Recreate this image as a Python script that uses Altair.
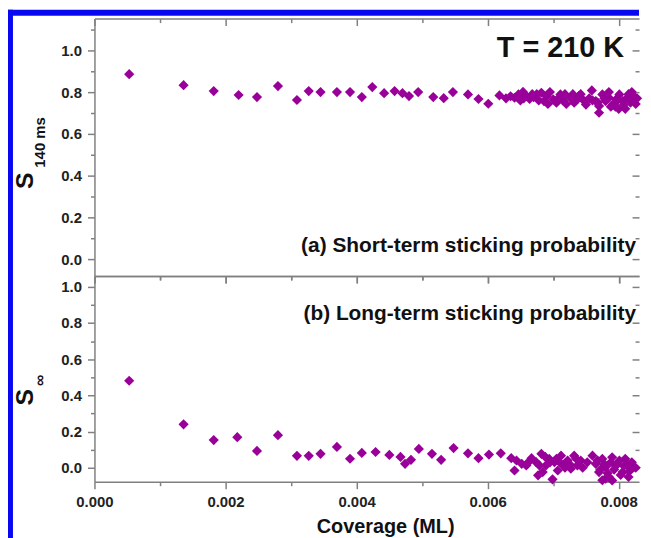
import altair as alt
import pandas as pd

PURPLE = "#990099"
BLUE = "#0808F0"
FONT = "Liberation Sans"
AXIS_GRAY = "#808080"

# ---------------- data ----------------
top_x = [0.00053, 0.00136, 0.00182, 0.00220, 0.00248, 0.00280, 0.00309, 0.00327,
         0.00345, 0.00370, 0.00390, 0.00408, 0.00424, 0.00442, 0.00458, 0.00470,
         0.00480, 0.00494, 0.00517, 0.00533, 0.00547, 0.00570, 0.00586, 0.00601,
         0.00618, 0.00641, 0.00647, 0.00654, 0.00659, 0.00664, 0.00670, 0.00682,
         0.00686, 0.00692, 0.00700, 0.00705, 0.00711, 0.00715, 0.00720, 0.00726,
         0.00732, 0.00739, 0.00745, 0.00759, 0.00765, 0.00770, 0.00770, 0.00775,
         0.00780, 0.00785, 0.00791, 0.00796, 0.00801, 0.00800, 0.00806, 0.00813,
         0.00818, 0.00823, 0.00826, 0.00650, 0.00675, 0.00695, 0.00730, 0.00750,
         0.00760, 0.00785, 0.00795, 0.00810, 0.00820,
         0.00655, 0.00668, 0.00678, 0.00690, 0.00708, 0.00718, 0.00735, 0.00742,
         0.00755, 0.00768, 0.00778, 0.00788, 0.00798, 0.00808, 0.00815, 0.00822,
         0.00828, 0.00635, 0.00628]
top_y = [0.886, 0.833, 0.805, 0.786, 0.776, 0.829, 0.762, 0.805,
         0.800, 0.800, 0.800, 0.776, 0.824, 0.795, 0.805, 0.795,
         0.781, 0.800, 0.776, 0.771, 0.800, 0.789, 0.767, 0.744,
         0.784, 0.773, 0.789, 0.801, 0.781, 0.767, 0.776, 0.797,
         0.757, 0.743, 0.765, 0.749, 0.789, 0.760, 0.743, 0.773,
         0.749, 0.781, 0.765, 0.808, 0.757, 0.733, 0.701, 0.789,
         0.757, 0.773, 0.741, 0.765, 0.789, 0.719, 0.757, 0.773,
         0.749, 0.781, 0.743, 0.760, 0.790, 0.800, 0.790, 0.740,
         0.760, 0.800, 0.730, 0.720, 0.800,
         0.770, 0.790, 0.760, 0.780, 0.770, 0.790, 0.760, 0.790,
         0.770, 0.750, 0.770, 0.730, 0.760, 0.740, 0.790, 0.760,
         0.770, 0.780, 0.770]

bot_x = [0.00053, 0.00136, 0.00182, 0.00218, 0.00248, 0.00280, 0.00309, 0.00327,
         0.00345, 0.00370, 0.00390, 0.00408, 0.00429, 0.00450, 0.00467, 0.00474,
         0.00483, 0.00495, 0.00515, 0.00529, 0.00548, 0.00570, 0.00586, 0.00602,
         0.00620, 0.00636, 0.00644, 0.00652, 0.00641, 0.00659, 0.00667, 0.00674,
         0.00682, 0.00679, 0.00684, 0.00677, 0.00689, 0.00694, 0.00699, 0.00702,
         0.00707, 0.00712, 0.00716, 0.00722, 0.00727, 0.00732, 0.00737, 0.00742,
         0.00760, 0.00765, 0.00770, 0.00775, 0.00780, 0.00785, 0.00790, 0.00796,
         0.00801, 0.00806, 0.00813, 0.00818, 0.00823, 0.00815, 0.00775,
         0.00695, 0.00705, 0.00718, 0.00725, 0.00735, 0.00745, 0.00752, 0.00768,
         0.00772, 0.00778, 0.00783, 0.00788, 0.00793, 0.00798, 0.00803, 0.00808,
         0.00810, 0.00816, 0.00820, 0.00826, 0.00780, 0.00790, 0.00662, 0.00688,
         0.00710]
bot_y = [0.481, 0.240, 0.153, 0.169, 0.093, 0.180, 0.066, 0.066,
         0.077, 0.115, 0.050, 0.082, 0.087, 0.071, 0.060, 0.022,
         0.044, 0.104, 0.077, 0.044, 0.109, 0.080, 0.053, 0.073,
         0.080, 0.053, 0.040, 0.022, -0.015, 0.013, 0.053, 0.031,
         0.077, 0.013, -0.024, -0.042, 0.013, 0.049, -0.064, 0.031,
         -0.015, 0.067, 0.013, 0.040, -0.005, 0.067, 0.013, 0.040,
         0.067, 0.022, -0.024, 0.049, 0.004, -0.051, 0.058, 0.013,
         0.040, -0.024, 0.022, -0.005, 0.004, -0.051, -0.069,
         0.030, 0.050, 0.000, 0.020, 0.050, 0.000, 0.030, 0.040,
         -0.010, 0.020, -0.030, 0.030, -0.010, 0.020, -0.040, 0.010,
         0.050, -0.020, 0.030, 0.000, -0.060, -0.070, 0.030, 0.060,
         0.030]

x_major = [0.0, 0.002, 0.004, 0.006, 0.008]
x_minor = [0.001, 0.003, 0.005, 0.007]
y_major = [0.0, 0.2, 0.4, 0.6, 0.8, 1.0]
y_minor_top = [0.1, 0.3, 0.5, 0.7, 0.9, 1.1]
y_minor_bot = [0.1, 0.3, 0.5, 0.7, 0.9]
x_domain = [0.0, 0.00831]
y_domain_top = [-0.081, 1.152]
y_domain_bot = [-0.077, 1.060]

W = 548
H1 = 259
H2 = 207


def ax(values, size, orient, labels=False, offset=None, domain=True, fmt=None, pad=None):
    kw = dict(values=values, tickSize=size, labels=labels, title=None,
              domain=domain, grid=False, orient=orient)
    if offset is not None:
        kw["offset"] = offset
    if fmt:
        kw["format"] = fmt
    if pad is not None:
        kw["labelPadding"] = pad
    return alt.Axis(**kw)


def txt(s, x, y, size, align="left", angle=0, baseline="middle"):
    return alt.Chart(pd.DataFrame({"t": [s]})).mark_text(
        font=FONT, fontWeight="bold", fontSize=size, align=align,
        baseline=baseline, angle=angle, color="#111111"
    ).encode(text="t:N", x=alt.value(x), y=alt.value(y))


def panel(xv, yv, ydom, H, yminor, xlabels, extras):
    df = pd.DataFrame({"x": xv, "y": yv})
    xs = alt.Scale(domain=x_domain, nice=False, zero=False)
    ys = alt.Scale(domain=ydom, nice=False, zero=False)
    base = alt.Chart(df)

    def lay(xaxis, yaxis, visible):
        m = base.mark_point(shape="diamond", filled=True, size=105, color=PURPLE,
                            opacity=1 if visible else 0, strokeWidth=0)
        return m.encode(x=alt.X("x:Q", scale=xs, axis=xaxis),
                        y=alt.Y("y:Q", scale=ys, axis=yaxis))

    layers = [
        lay(ax(x_major, 7, "bottom", labels=xlabels, fmt=".3f", pad=6),
            ax(y_major, 7, "left", labels=True, fmt=".1f", pad=6), True),
        lay(ax(x_minor, 4, "bottom", domain=False),
            ax(yminor, 4, "left", domain=False), False),
        lay(ax(x_major, 7, "bottom", offset=-H),
            ax(y_major, 7, "left", offset=-W, domain=False), False),
        lay(ax(x_minor, 4, "bottom", offset=-H, domain=False),
            ax(yminor, 4, "left", offset=-W, domain=False), False),
    ]
    return alt.layer(*layers, *extras).resolve_axis(
        x="independent", y="independent"
    ).properties(width=W, height=H)


frame = pd.DataFrame({"a": [0]})
blue_left = alt.Chart(frame).mark_rect(color=BLUE).encode(
    x=alt.value(-87), x2=alt.value(-82), y=alt.value(-9), y2=alt.value(525))
blue_top = alt.Chart(frame).mark_rect(color=BLUE).encode(
    x=alt.value(-87), x2=alt.value(W), y=alt.value(-9), y2=alt.value(-3))

top = panel(top_x, top_y, y_domain_top, H1, y_minor_top, False, [
    blue_left, blue_top,
    txt("T = 210 K", 533, 30, 29, align="right"),
    txt("(a) Short-term sticking probability", 545, 229, 21, align="right"),
    txt("S", -70, 163, 25, align="center", angle=270),
    txt("140 ms", -55, 150, 15, align="left", angle=270),
])

bottom = panel(bot_x, bot_y, y_domain_bot, H2, y_minor_bot, True, [
    txt("(b) Long-term sticking probability", 545, 38, 21, align="right"),
    txt("S", -70, 122, 25, align="center", angle=270),
    txt("∞", -55, 105, 16, align="center", angle=270),
    txt("Coverage (ML)", 293, 259, 20, align="center", baseline="alphabetic"),
])

chart = alt.vconcat(top, bottom, spacing=0, bounds="flush").properties(
    padding=0
).configure_view(stroke=None).configure_axis(
    labelFont=FONT, labelFontSize=15, labelFontWeight="bold", labelColor="#222222",
    domainColor=AXIS_GRAY, domainWidth=1.5, tickColor=AXIS_GRAY, tickWidth=1.5,
    labelFlush=False, labelOverlap=False
)

chart.save("out.html", embed_options={"renderer": "svg", "actions": False})
